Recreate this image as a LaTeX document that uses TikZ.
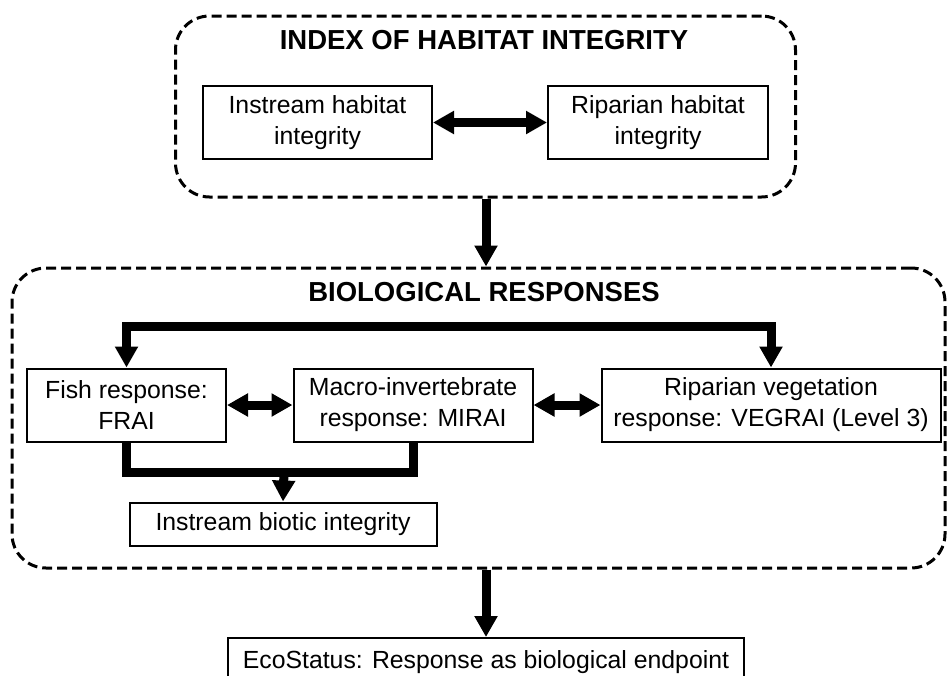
\documentclass[tikz,border=0pt]{standalone}
\usepackage{fontspec}
\setmainfont{Liberation Sans}
\usetikzlibrary{arrows.meta}

\begin{document}
\begin{tikzpicture}[x=1pt,y=-1pt,
    box/.style={draw,line width=2pt,align=center,inner sep=0pt,
        font=\fontsize{24.8}{31}\selectfont},
    group/.style={draw,line width=3pt,dash pattern=on 10pt off 5pt,
        rounded corners=34pt,inner sep=0pt},
    heading/.style={font=\bfseries\fontsize{27.5}{33}\selectfont},
    bar/.style={line width=9pt},
    flow/.style={bar,-{Triangle[width=22pt,length=21pt]}},
    link/.style={bar,{Triangle[width=22pt,length=21pt]}-{Triangle[width=22pt,length=21pt]}}]
\useasboundingbox (0,0) rectangle (947,675);
\clip (0,0) rectangle (947,675);

\node[group,minimum width=620pt,minimum height=181pt] (idx) at (485.5,106.5) {};
\node[heading] (idxtitle) at (484,40) {INDEX OF HABITAT INTEGRITY};
\node[box,minimum width=229pt,minimum height=73pt] (ih) at (317.5,122.5) {Instream habitat\\integrity};
\node[box,minimum width=220pt,minimum height=73pt] (rh) at (658,122.5) {Riparian habitat\\integrity};

\node[group,minimum width=933pt,minimum height=300pt] (bio) at (478.5,418) {};
\node[heading] (biotitle) at (484,292) {BIOLOGICAL RESPONSES};
\node[box,minimum width=199pt,minimum height=73pt] (fish) at (126.5,405) {Fish response:\\FRAI};
\node[box,minimum width=239pt,minimum height=73pt] (mac) at (413,405) {Macro-invertebrate\\response: MIRAI};
\node[box,minimum width=339pt,minimum height=73pt] (veg) at (771,405) {Riparian vegetation\\response: VEGRAI (Level 3)};
\node[box,minimum width=307pt,minimum height=43pt] (bi) at (283,524) {Instream biotic integrity};
\coordinate (j) at (284,472);

\node[box,minimum width=516pt,minimum height=48pt] (eco) at (486,662) {EcoStatus: Response as biological endpoint};

\draw[link] (ih.east) -- (rh.west);
\draw[flow] (idx.south -| eco.north) -- (bio.north -| eco.north);
\draw[link] (fish.north) -- ++(0,-41.5) -| (veg.north);
\draw[link] (fish.east) -- (mac.west);
\draw[link] (mac.east) -- (veg.west);
\draw[bar] (fish.south) |- (j) -| (mac.south);
\draw[flow] (j) -- (bi.north);
\draw[flow] (bio.south -| eco.north) -- (eco.north);
\end{tikzpicture}
\end{document}
